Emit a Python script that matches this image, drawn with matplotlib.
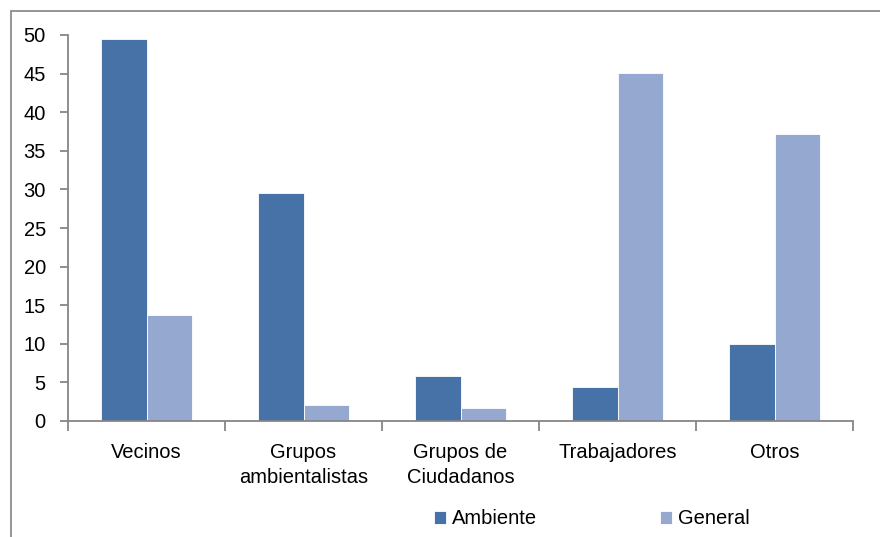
import matplotlib
matplotlib.use("Agg")
import matplotlib.pyplot as plt
from matplotlib.patches import Rectangle
import numpy as np

categories = ["Vecinos", "Grupos\nambientalistas", "Grupos de\nCiudadanos", "Trabajadores", "Otros"]
ambiente = [49.5, 29.5, 5.8, 4.4, 10.0]
general = [13.7, 2.1, 1.7, 45.1, 37.2]
yticks = [0, 5, 10, 15, 20, 25, 30, 35, 40, 45, 50]

c_amb = "#4672A7"
c_gen = "#95A9D0"
axis_c = "#868686"

plt.rcParams['font.family'] = ['Liberation Sans', 'DejaVu Sans']
FS = 14.5

W, H = 880, 537
fig = plt.figure(figsize=(W / 100, H / 100), dpi=100)

# outer frame
fig.patches.append(Rectangle((11 / W, -0.05), 1.2, 1 - 11 / H + 0.05, transform=fig.transFigure,
                             fill=False, edgecolor="#8C8C8C", linewidth=1.3))

ax = fig.add_axes([68 / W, 1 - 421 / H, (853 - 68) / W, (421 - 35) / H])
x = np.arange(len(categories))
bw = 0.287
ax.bar(x - bw / 2, ambiente, width=bw, color=c_amb, edgecolor="white", linewidth=0.6, label="Ambiente")
ax.bar(x + bw / 2, general, width=bw, color=c_gen, edgecolor="white", linewidth=0.6, label="General")

ax.set_xlim(-0.5, len(categories) - 0.5)
ax.set_ylim(0, 50)
ax.set_yticks(yticks)
ax.set_yticklabels([str(v) for v in yticks], fontsize=FS)
ax.set_xticks(np.arange(len(categories) + 1) - 0.5)
ax.set_xticklabels([""] * (len(categories) + 1))
ax.set_xticks(x, minor=True)
ax.set_xticklabels(categories, minor=True, fontsize=FS, linespacing=1.38)
ax.tick_params(axis="x", which="minor", length=0, pad=16)
ax.tick_params(axis="x", which="major", length=7, color=axis_c, width=1.3, direction="out")
ax.tick_params(axis="y", length=6, color=axis_c, width=1.3, direction="out", pad=10)

for s in ["top", "right"]:
    ax.spines[s].set_visible(False)
for s in ["left", "bottom"]:
    ax.spines[s].set_color(axis_c)
    ax.spines[s].set_linewidth(1.3)

leg = fig.legend(loc="center", bbox_to_anchor=(592 / W, 1 - 519 / H), ncol=2, frameon=False,
                 fontsize=FS, handlelength=0.6, handleheight=0.6, handletextpad=0.3,
                 columnspacing=6.1)

fig.savefig("out.png", dpi=100)
